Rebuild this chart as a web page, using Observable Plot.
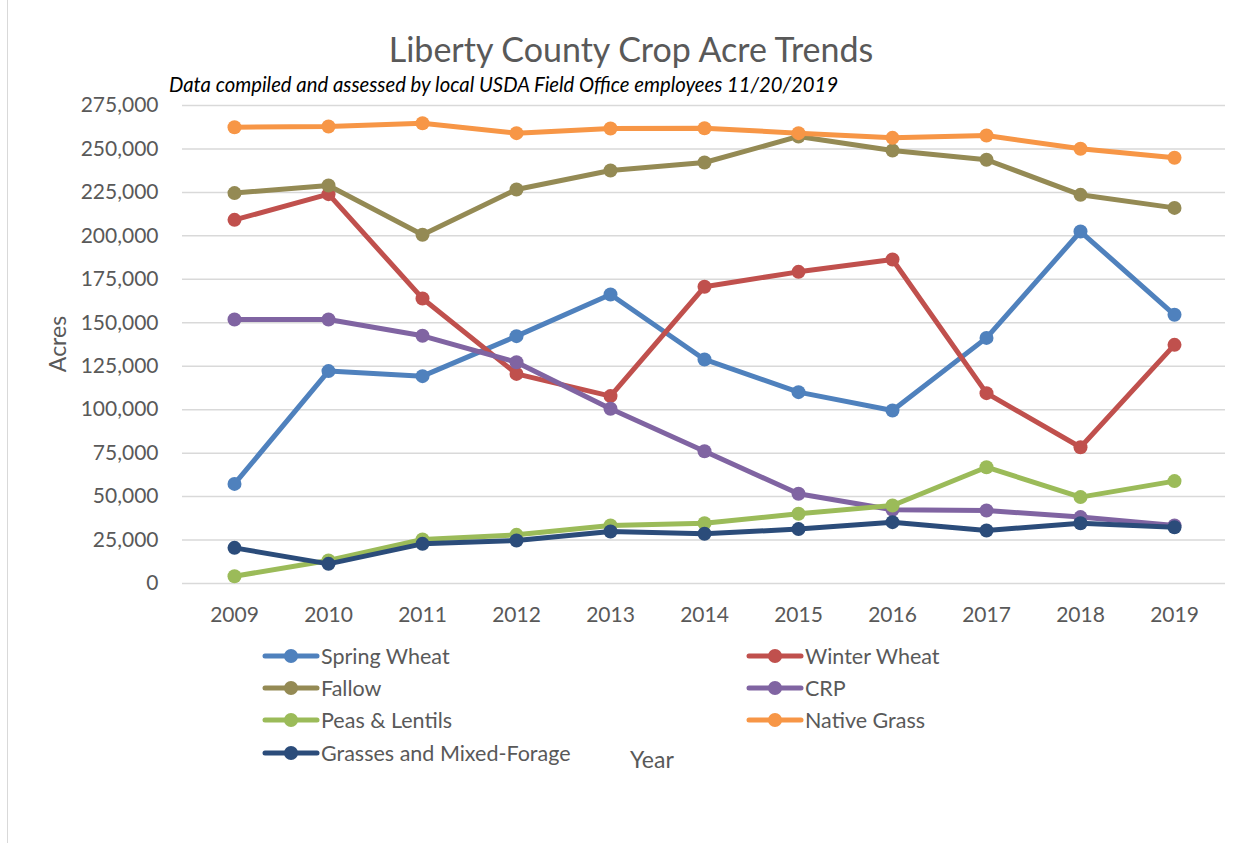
<!DOCTYPE html>
<html>
<head>
<meta charset="utf-8">
<script src="https://cdn.jsdelivr.net/npm/d3@7"></script>
<script src="https://cdn.jsdelivr.net/npm/@observablehq/plot@0.6"></script>
<style>
  html, body { margin: 0; padding: 0; background: #fff; }
  #wrap { position: relative; width: 1250px; height: 845px; overflow: hidden; font-family: Lato, "Open Sans", sans-serif; color: #595959; }
  #frame { position: absolute; left: 7px; top: -2px; width: 1300px; height: 845px; border-left: 1.5px solid #d9d9d9; }
  #chart { position: absolute; left: 0; top: 0; }
  #title { position: absolute; left: 0; width: 1262px; top: 28px; text-align: center; font-size: 34px; color: #595959; white-space: nowrap; }
  #subtitle { position: absolute; left: 169px; top: 72px; font-size: 20.3px; font-style: italic; color: #000; white-space: nowrap; }
  #ylabel { position: absolute; left: 57px; top: 344px; transform: translate(-50%, -50%) rotate(-90deg); font-size: 23px; white-space: nowrap; }
  #xlabel { position: absolute; left: 630px; top: 745px; font-size: 23px; white-space: nowrap; }
  .leg { position: absolute; display: flex; align-items: center; font-size: 21.5px; white-space: nowrap; }
  .leg svg { margin-right: 1px; }
</style>
</head>
<body>
<div id="wrap">
  <div id="frame"></div>
  <div id="chart"></div>
  <div id="title">Liberty County Crop Acre Trends</div>
  <div id="subtitle">Data compiled and assessed by local USDA Field Office employees 11/20/2019</div>
  <div id="ylabel">Acres</div>
  <div id="xlabel">Year</div>
  <div id="legend"></div>
</div>
<script>
const years = ["2009","2010","2011","2012","2013","2014","2015","2016","2017","2018","2019"];
const seriesNames = ["Spring Wheat","Winter Wheat","Fallow","CRP","Peas & Lentils","Native Grass","Grasses and Mixed-Forage"];
const seriesColors = ["#4F81BD","#C0504D","#948A54","#8064A2","#9BBB59","#F79646","#2B4C7A"];
const springWheat = [57300, 122200, 119300, 142300, 166300, 128900, 110100, 99500, 141300, 202500, 154600];
const winterWheat = [209200, 224000, 164000, 120600, 107800, 170700, 179300, 186400, 109500, 78400, 137300];
const fallow      = [224600, 229000, 200600, 226700, 237600, 242200, 257200, 249100, 243800, 223600, 216100];
const crp         = [151900, 151900, 142500, 127300, 100500, 76100, 51600, 42400, 42000, 38200, 33400];
const peasLentils = [4200, 13200, 25300, 28000, 33400, 34700, 40100, 44900, 66900, 49700, 58900];
const nativeGrass = [262500, 262900, 264800, 259100, 261800, 261900, 259100, 256400, 257700, 250100, 244900];
const grasses     = [20500, 11300, 22800, 24700, 29900, 28600, 31300, 35300, 30500, 34700, 32400];
const yTicks = [0, 25000, 50000, 75000, 100000, 125000, 150000, 175000, 200000, 225000, 250000, 275000];

const allValues = [springWheat, winterWheat, fallow, crp, peasLentils, nativeGrass, grasses];
const rows = [];
seriesNames.forEach((name, i) => {
  years.forEach((yr, j) => rows.push({series: name, year: yr, value: allValues[i][j]}));
});

const marks = [
  Plot.ruleY(yTicks, {stroke: "#d9d9d9", strokeWidth: 1.5})
];
seriesNames.forEach((name, i) => {
  const d = rows.filter(r => r.series === name);
  marks.push(Plot.line(d, {x: "year", y: "value", stroke: seriesColors[i], strokeWidth: 5, strokeLinejoin: "round", strokeLinecap: "round"}));
  marks.push(Plot.dot(d, {x: "year", y: "value", fill: seriesColors[i], r: 7}));
});
marks.push(Plot.axisY(yTicks, {tickSize: 0, tickPadding: 24, tickFormat: d3.format(","), label: null, fontSize: 21}));
marks.push(Plot.axisX({tickSize: 0, tickPadding: 24, label: null, fontSize: 21}));

const chart = Plot.plot({
  width: 1250,
  height: 845,
  marginLeft: 182,
  marginRight: 25,
  marginTop: 105,
  marginBottom: 262,
  style: {fontFamily: "Lato, sans-serif", color: "#595959", background: "transparent", overflow: "visible"},
  x: {type: "point", domain: years, padding: 0.5},
  y: {domain: [0, 275000]},
  marks
});
document.getElementById("chart").appendChild(chart);

// legend
const legPos = [[262, 656],[746, 656],[262, 688],[746, 688],[262, 720],[746, 720],[262, 753]];
const legend = document.getElementById("legend");
seriesNames.forEach((name, i) => {
  const el = document.createElement("div");
  el.className = "leg";
  el.style.left = legPos[i][0] + "px";
  el.style.top = (legPos[i][1] - 15) + "px";
  el.innerHTML = `<svg width="58" height="30"><line x1="3" y1="15" x2="55" y2="15" stroke="${seriesColors[i]}" stroke-width="5" stroke-linecap="round"/><circle cx="29" cy="15" r="7" fill="${seriesColors[i]}"/></svg><span>${name}</span>`;
  legend.appendChild(el);
});
</script>
</body>
</html>
